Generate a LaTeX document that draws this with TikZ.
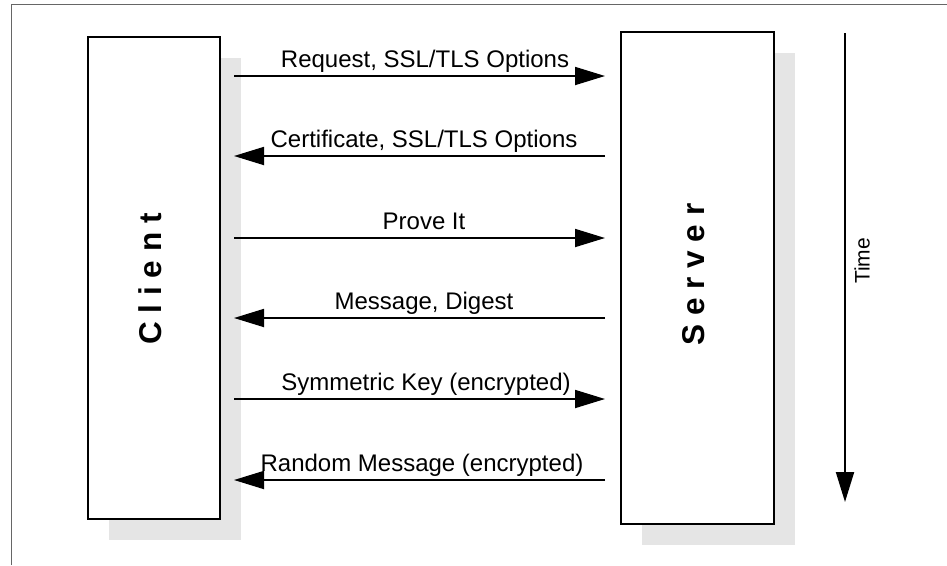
\documentclass[tikz,border=0pt]{standalone}
\usepackage{fontspec}
\setmainfont{Liberation Sans}
\usetikzlibrary{arrows.meta}
\begin{document}
\begin{tikzpicture}[x=1pt,y=-1pt,
  box/.style={draw=black,line width=2pt,fill=white,inner sep=0pt},
  shade/.style={fill=black!10,draw=none},
  msg/.style={line width=1.8pt,-{Triangle[length=30pt,width=18pt]}},
  lbl/.style={font=\fontsize{24}{27}\selectfont,inner sep=0pt,anchor=base},
  big/.style={font=\fontsize{31.5}{34}\selectfont\bfseries,inner sep=0pt,rotate=90}]
\useasboundingbox (0,0) rectangle (947,565);
\draw[black!60,line width=1pt] (11,565) -- (11,4) -- (947,4);
% shadows
\fill[shade] (109,58) rectangle (241,540);
\fill[shade] (642,53) rectangle (795,545);
% boxes
\node[box,minimum width=132pt,minimum height=482pt] (client) at (154,278) {};
\node[box,minimum width=153pt,minimum height=492pt] (server) at (697.5,278) {};
\node[big] (clbl) at (150,279) {C l i e n t};
\node[big] (slbl) at (694,274.5) {S e r v e r};
% message endpoints
\foreach \i/\y in {1/76,2/156,3/238,4/318,5/399,6/480}{
  \path (client.east |- 0,\y) ++(13,0) coordinate (a\i);
  \path (server.west |- 0,\y) ++(-15,0) coordinate (b\i);
}
\draw[msg] (a1) -- (b1);
\draw[msg] (b2) -- (a2);
\draw[msg] (a3) -- (b3);
\draw[msg] (b4) -- (a4);
\draw[msg] (a5) -- (b5);
\draw[msg] (b6) -- (a6);
\node[lbl] (t1) at (425,67) {Request, SSL/TLS Options};
\node[lbl] (t2) at (424,147) {Certificate, SSL/TLS Options};
\node[lbl] (t3) at (424,229) {Prove It};
\node[lbl] (t4) at (424,309) {Message, Digest};
\node[lbl] (t5) at (426,390) {Symmetric Key (encrypted)};
\node[lbl] (t6) at (422,471) {Random Message (encrypted)};
% time axis
\coordinate (ts) at (845,33);
\coordinate (te) at (845,502);
\draw[line width=2pt,-{Triangle[length=30pt,width=18pt]}] (ts) -- (te);
\node[font=\fontsize{21}{24}\selectfont,inner sep=0pt,rotate=90] (time) at (862,261) {Time};
\end{tikzpicture}
\end{document}
